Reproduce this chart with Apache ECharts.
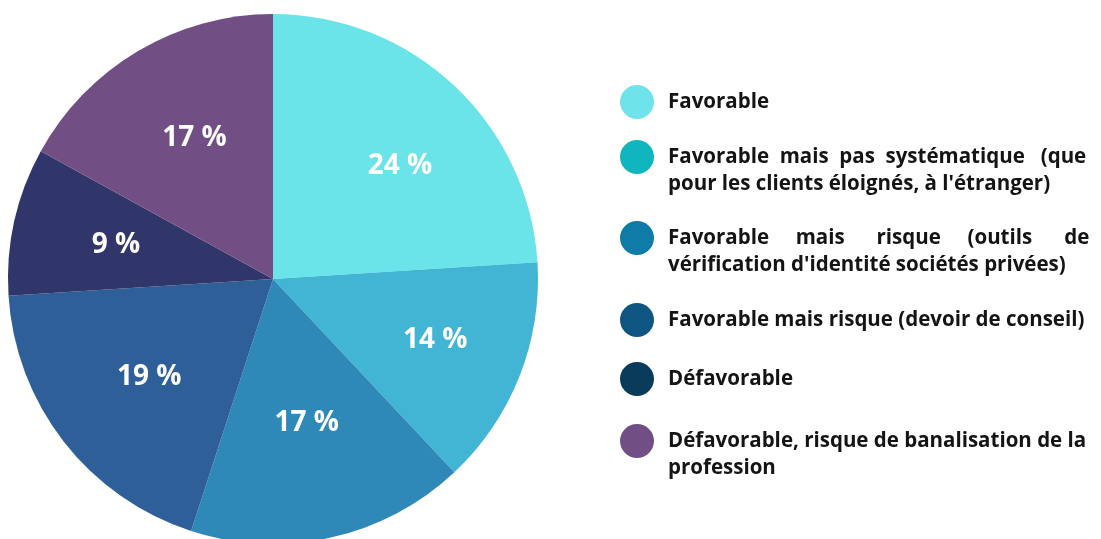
<!DOCTYPE html>
<html>
<head>
<meta charset="utf-8">
<script src="https://cdn.jsdelivr.net/npm/echarts@6/dist/echarts.min.js"></script>
<style>
    html, body { margin: 0; padding: 0; background: #fff; }
    #chart { width: 1101px; height: 539px; }
</style>
</head>
<body>
<div id="chart"></div>
<script>
    // categories, in pie order (clockwise from 12 o'clock)
    const categories = [
        'Favorable',
        'Favorable mais pas systématique (que pour les clients éloignés, à l\'étranger)',
        'Favorable mais risque (outils de vérification d\'identité sociétés privées)',
        'Favorable mais risque (devoir de conseil)',
        'Défavorable',
        'Défavorable, risque de banalisation de la profession'
    ];
    const values = [24, 14, 17, 19, 9, 17];

    // how each legend text is broken in the picture (first lines are justified)
    const legendLines = [
        ['Favorable'],
        ['Favorable  mais  pas  systématique   (que', 'pour les clients éloignés, à l\'étranger)'],
        ['Favorable     mais      risque     (outils      de', 'vérification d\'identité sociétés privées)'],
        ['Favorable mais risque (devoir de conseil)'],
        ['Défavorable'],
        ['Défavorable, risque de banalisation de la', 'profession']
    ];

    const sliceColors = ['#6ae4e8', '#42b5d4', '#2e89b8', '#2e5f98', '#30356a', '#714e84'];
    const legendColors = ['#6fe3ea', '#10b6bd', '#0f7ba7', '#0f5582', '#0b3b5b', '#714e84'];
    const iconCentersY = [102, 157, 238, 320, 379, 441];
    // small hand tweaks of the % labels, as placed in the original
    const labelNudge = [[12, 9], [6, -1], [-3, -20], [9, -5], [7, 3], [7, 4]];

    const LINE_H = 27;
    const ICON = 34;

    const chart = echarts.init(document.getElementById('chart'));

    const pieData = categories.map((name, i) => ({
        name: name,
        value: values[i],
        itemStyle: { color: sliceColors[i] }
    }));

    const legends = categories.map((name, i) => {
        const lines = legendLines[i];
        // icon lines up with the first text line: put blank lines above long texts
        const blanks = lines.length - 1;
        const shown = Array(blanks).fill(' ').concat(lines);
        const boxH = Math.max(ICON, shown.length * LINE_H);
        return {
            left: 620,
            top: iconCentersY[i] - boxH / 2,
            orient: 'vertical',
            padding: 0,
            icon: 'circle',
            itemWidth: ICON,
            itemHeight: ICON,
            selectedMode: false,
            data: [{ name: name, itemStyle: { color: legendColors[i] } }],
            formatter: () => shown.join('\n'),
            textStyle: {
                fontFamily: 'Open Sans',
                fontWeight: 'bold',
                fontSize: 20.5,
                color: '#141414',
                lineHeight: LINE_H,
                padding: [0, 0, 0, 9]
            }
        };
    });

    chart.setOption({
        animation: false,
        legend: legends,
        series: [
            {
                type: 'pie',
                center: [273, 279],
                radius: 265,
                startAngle: 90,
                clockwise: true,
                silent: true,
                label: { show: false },
                labelLine: { show: false },
                data: pieData
            },
            {
                // invisible copy only to put the labels further out than mid-radius
                type: 'pie',
                center: [273, 279],
                radius: [0, 330],
                startAngle: 90,
                clockwise: true,
                silent: true,
                itemStyle: { color: 'rgba(0,0,0,0)' },
                label: {
                    show: true,
                    position: 'inside',
                    formatter: '{c} %',
                    color: '#fff',
                    fontFamily: 'Open Sans',
                    fontWeight: 'bold',
                    fontSize: 28
                },
                labelLayout: params => ({
                    dx: labelNudge[params.dataIndex][0],
                    dy: labelNudge[params.dataIndex][1]
                }),
                labelLine: { show: false },
                data: pieData.map(d => ({ name: d.name, value: d.value }))
            }
        ]
    });
</script>
</body>
</html>
